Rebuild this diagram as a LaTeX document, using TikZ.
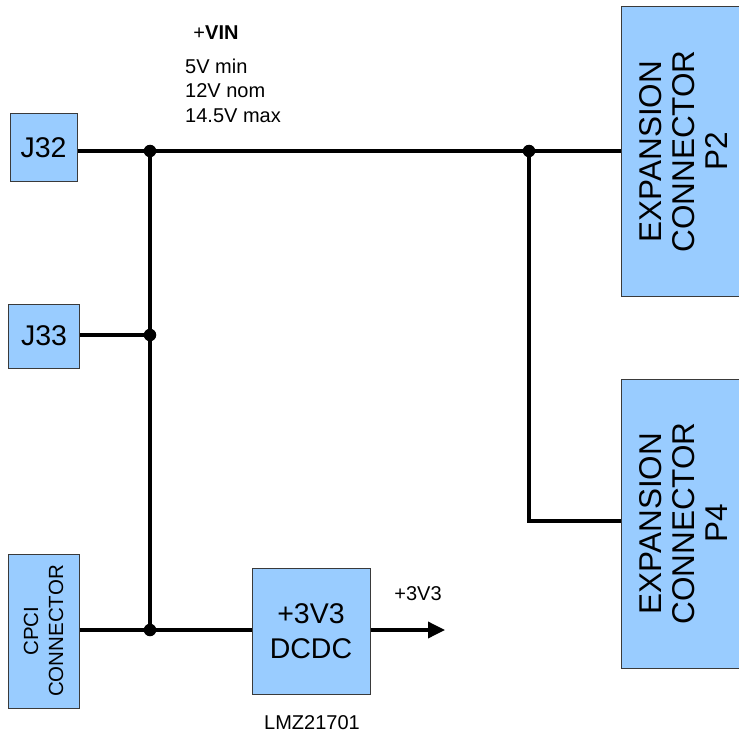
\documentclass[tikz,border=0pt]{standalone}
\usepackage{fontspec}
\setmainfont{Liberation Sans}
\usetikzlibrary{arrows.meta}
\definecolor{boxblue}{HTML}{99CCFF}
\definecolor{boxline}{HTML}{3A3A3A}
\tikzset{
  blk/.style={draw=boxline, line width=1pt, fill=boxblue, inner sep=0pt, align=center, text=black},
  wire/.style={line width=3.5pt},
  thinwire/.style={line width=3.1pt},
  jdot/.style={circle, fill=black, inner sep=0pt, minimum size=12.5pt},
  lbl/.style={font=\fontsize{20}{24.5}\selectfont, inner sep=0pt, align=left}
}
\begin{document}
\begin{tikzpicture}[x=1pt,y=-1pt]
\useasboundingbox (0,0) rectangle (739,733);
\clip (0,0) rectangle (739,733);
% blocks
\node[blk, minimum width=67pt, minimum height=67pt, font=\fontsize{28.5}{33}\selectfont] (j32) at (43.5,147.5) {J32};
\node[blk, minimum width=71pt, minimum height=64pt, font=\fontsize{28.5}{33}\selectfont] (j33) at (44,336) {J33};
\node[blk, rotate=90, minimum width=154pt, minimum height=71pt, font=\fontsize{20.5}{25}\selectfont] (cpci) at (43.5,631) {CPCI\\CONNECTOR};
\node[blk, minimum width=118pt, minimum height=126pt, font=\fontsize{28.5}{35}\selectfont] (dcdc) at (311,631) {+3V3\\DCDC};
\node[blk, rotate=90, minimum width=289pt, minimum height=124pt, font=\fontsize{31.5}{33}\selectfont] (p2) at (683,151.5) {EXPANSION\\CONNECTOR\\P2};
\node[blk, rotate=90, minimum width=289pt, minimum height=124pt, font=\fontsize{31.5}{33}\selectfont] (p4) at (683,523.5) {EXPANSION\\CONNECTOR\\P4};
% junctions
\coordinate (a) at (150,151);
\coordinate (b) at (150,335);
\coordinate (c) at (150,630);
\coordinate (d) at (529,151);
\coordinate (e) at (529,521);
\coordinate (out) at (445,630);
% wires
\draw[wire] (j32.east |- a) -- (a) -- (d);
\draw[thinwire] (d) -- (d -| p2.north);
\draw[wire] (a) -- (c);
\draw[thinwire] (j33.east |- b) -- (b);
\draw[wire] (cpci.south |- c) -- (c) -- (c -| dcdc.west);
\draw[thinwire] (d) -- (e) -- (e -| p4.north);
\draw[wire, -{Triangle[length=17pt,width=16pt]}] (dcdc.east |- out) -- (out);
\node[jdot] (ja) at (a) {};
\node[jdot] (jb) at (b) {};
\node[jdot] (jc) at (c) {};
\node[jdot] (jd) at (d) {};
% labels
\node[lbl, anchor=base] (vin) at (216,40) {+\textbf{VIN}};
\node[lbl, anchor=north west] (spec) at (185,58.5) {5V min\\12V nom\\14.5V max};
\node[lbl, anchor=base] (v33) at (418,600) {+3V3};
\node[lbl, anchor=base] (lmz) at (312,729) {LMZ21701};
\end{tikzpicture}
\end{document}
